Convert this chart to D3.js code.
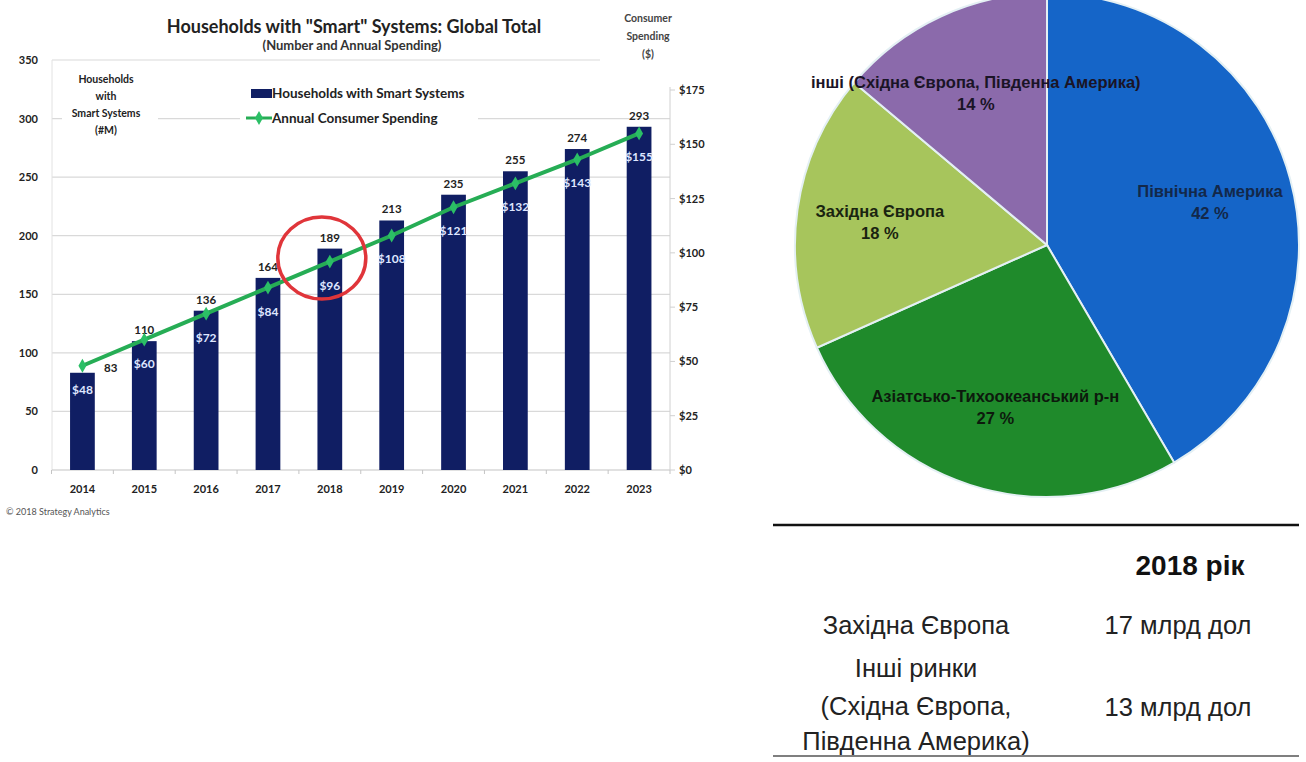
<!DOCTYPE html>
<html><head><meta charset="utf-8">
<script src="https://cdn.jsdelivr.net/npm/d3@7"></script>
<style>body{margin:0;background:#fff}svg{display:block}</style>
</head><body>
<svg id="c" width="1306" height="762"></svg>
<script>
// ---------- data ----------
const years = ["2014","2015","2016","2017","2018","2019","2020","2021","2022","2023"];
const households = [83,110,136,164,189,213,235,255,274,293];
const spending = [48,60,72,84,96,108,121,132,143,155];
const leftTicks = [0,50,100,150,200,250,300,350];
const rightTicks = [0,25,50,75,100,125,150,175];
const pieNames = ["Північна Америка","Азіатсько-Тихоокеанський р-н","Західна Європа","інші (Східна Європа, Південна Америка)"];
const pieValues = [42,27,18,14];
const pieColors = ["#1565c8","#1f8a2b","#a7c55c","#8b6aab"];
const pieTextColors = ["#13284a","#0d1a0d","#1a2410","#1a1426"];
const tableHeader = "2018 рік";
const tableRows = [["Західна Європа"],["Інші ринки","(Східна Європа,","Південна Америка)"]];
const tableValues = ["17 млрд дол","13 млрд дол"];

const svg = d3.select("#c");
const F = "Lato, 'Open Sans', sans-serif";
const H = "'Liberation Sans', Arial, sans-serif";

// ---------- left chart ----------
const y = d3.scaleLinear().domain([0,350]).range([470,60]);
const yR = d3.scaleLinear().domain([0,175]).range([470,90]);
const x = d3.scaleBand().domain(years).range([51.5,670]).paddingInner(0.6).paddingOuter(0.3);

const g = svg.append("g");
// gridlines
g.selectAll(".grid").data(leftTicks.filter(d=>d>0)).join("line")
  .attr("x1",52).attr("x2",670).attr("y1",d=>y(d)).attr("y2",d=>y(d))
  .attr("stroke","#d9d9d9").attr("stroke-width",1.2);
// left axis line (faint)
g.append("line").attr("x1",52).attr("x2",52).attr("y1",y(350)).attr("y2",y(0)).attr("stroke","#e2e2e2");
// baseline
g.append("line").attr("x1",52).attr("x2",670).attr("y1",y(0)).attr("y2",y(0)).attr("stroke","#c4c4c4").attr("stroke-width",1.2);
// x tick marks between categories
const step = x.step();
g.selectAll(".xt").data(d3.range(years.length+1)).join("line")
  .attr("x1",i=>x(years[0]) - x.paddingInner()*step/2 + i*step)
  .attr("x2",i=>x(years[0]) - x.paddingInner()*step/2 + i*step)
  .attr("y1",y(0)).attr("y2",y(0)+4).attr("stroke","#c4c4c4");
// left tick labels
g.selectAll(".ly").data(leftTicks).join("text")
  .attr("x",38).attr("y",d=>y(d)+4).attr("text-anchor","end")
  .attr("font-family",F).attr("font-weight","bold").attr("font-size",11).attr("fill","#222")
  .text(d=>d);
// right axis
g.append("line").attr("x1",670).attr("x2",670).attr("y1",yR(175)-3).attr("y2",y(0)).attr("stroke","#d0d0d0");
g.selectAll(".rt").data(rightTicks).join("line")
  .attr("x1",670).attr("x2",675).attr("y1",d=>yR(d)).attr("y2",d=>yR(d)).attr("stroke","#d0d0d0");
g.selectAll(".ry").data(rightTicks).join("text")
  .attr("x",679).attr("y",d=>yR(d)+4)
  .attr("font-family",F).attr("font-weight","bold").attr("font-size",11).attr("fill","#222")
  .text(d=>"$"+d);
// x labels
g.selectAll(".xl").data(years).join("text")
  .attr("x",d=>x(d)+x.bandwidth()/2).attr("y",493).attr("text-anchor","middle")
  .attr("font-family",F).attr("font-weight","bold").attr("font-size",11).attr("fill","#222")
  .text(d=>d);

// white backgrounds for text blocks
const bgs = [[62,68,96,70],[240,84,238,44],[600,8,96,60]];
g.selectAll(".bg").data(bgs).join("rect")
  .attr("x",d=>d[0]).attr("y",d=>d[1]).attr("width",d=>d[2]).attr("height",d=>d[3]).attr("fill","#fff");

// bars
const bars = years.map((yr,i)=>({yr,h:households[i],s:spending[i]}));
g.selectAll(".bar").data(bars).join("rect")
  .attr("x",d=>x(d.yr)).attr("width",x.bandwidth())
  .attr("y",d=>y(d.h)).attr("height",d=>y(0)-y(d.h)).attr("fill","#101e63");
// bar value labels
g.selectAll(".bv").data(bars).join("text")
  .attr("x",(d,i)=> i===0 ? x(d.yr)+x.bandwidth()+16 : x(d.yr)+x.bandwidth()/2)
  .attr("y",(d,i)=> i===0 ? y(d.h)-1 : y(d.h)-7).attr("text-anchor","middle")
  .attr("font-family",F).attr("font-weight","bold").attr("font-size",11.5).attr("fill","#222")
  .text(d=>d.h);
// spending labels inside bars
g.selectAll(".sv").data(bars).join("text")
  .attr("x",d=>x(d.yr)+x.bandwidth()/2).attr("y",d=>yR(d.s)+28).attr("text-anchor","middle")
  .attr("font-family",F).attr("font-weight","bold").attr("font-size",12).attr("fill","#dfe6ff")
  .text(d=>"$"+d.s);
// line
const line = d3.line().x(d=>x(d.yr)+x.bandwidth()/2).y(d=>yR(d.s));
g.append("path").datum(bars).attr("d",line).attr("fill","none").attr("stroke","#26ad55").attr("stroke-width",4);
const diamond = d3.symbol().type(d3.symbolDiamond).size(55);
g.selectAll(".mk").data(bars).join("path")
  .attr("transform",d=>`translate(${x(d.yr)+x.bandwidth()/2},${yR(d.s)})`)
  .attr("d",diamond).attr("fill","#2bbf66");

// titles
g.append("text").attr("x",354).attr("y",33).attr("text-anchor","middle")
  .attr("font-family",F).attr("font-weight","bold").attr("font-size",18).attr("fill","#222")
  .text('Households with "Smart" Systems: Global Total');
g.append("text").attr("x",352).attr("y",50).attr("text-anchor","middle")
  .attr("font-family",F).attr("font-weight","bold").attr("font-size",13).attr("fill","#333")
  .text("(Number and Annual Spending)");
const csLines = ["Consumer","Spending","($)"];
g.selectAll(".cs").data(csLines).join("text")
  .attr("x",648).attr("y",(d,i)=>22+i*18).attr("text-anchor","middle")
  .attr("font-family",F).attr("font-weight","bold").attr("font-size",10.5).attr("fill","#444")
  .text(d=>d);
const lyLines = ["Households","with","Smart Systems","(#M)"];
g.selectAll(".lyt").data(lyLines).join("text")
  .attr("x",106).attr("y",(d,i)=>83+i*17).attr("text-anchor","middle")
  .attr("font-family",F).attr("font-weight","bold").attr("font-size",10.5).attr("fill","#222")
  .text(d=>d);
// legend
g.append("rect").attr("x",251).attr("y",89).attr("width",21).attr("height",9).attr("fill","#101e63");
g.append("text").attr("x",272).attr("y",98).attr("font-family",F).attr("font-weight","bold").attr("font-size",13.5).attr("fill","#222").text("Households with Smart Systems");
g.append("line").attr("x1",246).attr("x2",272).attr("y1",118).attr("y2",118).attr("stroke","#26ad55").attr("stroke-width",3);
g.append("path").attr("transform","translate(259,118)").attr("d",diamond).attr("fill","#2bbf66");
g.append("text").attr("x",272).attr("y",123).attr("font-family",F).attr("font-weight","bold").attr("font-size",13.5).attr("fill","#222").text("Annual Consumer Spending");
// red circle
g.append("ellipse").attr("cx",x("2018")+x.bandwidth()/2-8).attr("cy",258).attr("rx",44).attr("ry",41)
  .attr("fill","none").attr("stroke","#e0353a").attr("stroke-width",3.5);
// copyright
g.append("text").attr("x",6).attr("y",515).attr("font-family",F).attr("font-size",9).attr("fill","#555").text("© 2018 Strategy Analytics");

// ---------- pie ----------
const cx = 1047, cy = 245, R = 252;
const pie = d3.pie().sort(null).value(d=>d.v);
const pdata = pie(pieNames.map((n,i)=>({n,v:pieValues[i],c:pieColors[i],t:pieTextColors[i]})));
const arc = d3.arc().innerRadius(0).outerRadius(R);
const labArc = d3.arc().innerRadius(R*0.67).outerRadius(R*0.67);
const pg = svg.append("g").attr("transform",`translate(${cx},${cy})`);
pg.selectAll(".sl").data(pdata).join("path").attr("d",arc)
  .attr("fill",d=>d.data.c).attr("stroke","#e4f0f4").attr("stroke-width",2);
const lab = pg.selectAll(".pl").data(pdata).join("g")
  .attr("transform",d=>{const c=labArc.centroid(d);return `translate(${c[0]},${c[1]})`;});
lab.append("text").attr("y",-4).attr("text-anchor","middle")
  .attr("font-family",H).attr("font-weight","bold").attr("font-size",16.5).attr("fill",d=>d.data.t)
  .text(d=>d.data.n);
lab.append("text").attr("y",18).attr("text-anchor","middle")
  .attr("font-family",H).attr("font-weight","bold").attr("font-size",16.5).attr("fill",d=>d.data.t)
  .text(d=>d.data.v+" %");

// ---------- table ----------
const tg = svg.append("g");
tg.append("line").attr("x1",773).attr("x2",1299).attr("y1",525).attr("y2",525).attr("stroke","#111").attr("stroke-width",2.5);
tg.append("line").attr("x1",773).attr("x2",1299).attr("y1",756).attr("y2",756).attr("stroke","#555").attr("stroke-width",1.5);
tg.append("text").attr("x",1190).attr("y",575).attr("text-anchor","middle")
  .attr("font-family",H).attr("font-weight","bold").attr("font-size",28).attr("fill","#111").text(tableHeader);
const rowY = [[634],[677,715,750]];
const valY = [634,716];
tableRows.forEach((lines,r)=>{
  tg.selectAll(".r"+r).data(lines).join("text")
    .attr("x",916).attr("y",(d,i)=>rowY[r][i]).attr("text-anchor","middle")
    .attr("font-family",H).attr("font-size",25.5).attr("fill","#222").text(d=>d);
});
tg.selectAll(".tv").data(tableValues).join("text")
  .attr("x",1178).attr("y",(d,i)=>valY[i]).attr("text-anchor","middle")
  .attr("font-family",H).attr("font-size",25.5).attr("fill","#222").text(d=>d);
</script>
</body></html>
